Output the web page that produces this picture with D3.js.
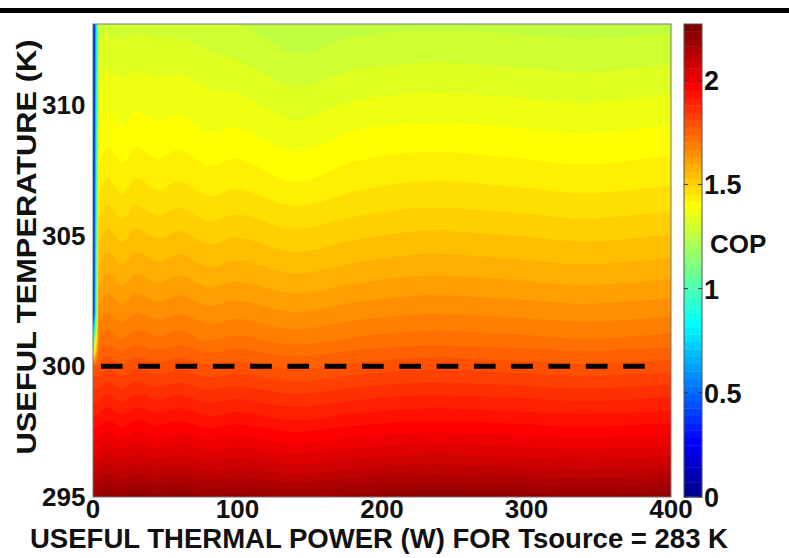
<!DOCTYPE html>
<html>
<head>
<meta charset="utf-8">
<script src="https://cdn.jsdelivr.net/npm/d3@7"></script>
<style>
  html, body { margin: 0; padding: 0; background: #fff; }
  svg { display: block; }
  text { font-family: "Liberation Sans", Arial, Helvetica, sans-serif; font-weight: bold; fill: #111; }
</style>
</head>
<body>
<svg id="chart" width="789" height="558"></svg>
<script>
// ---------------- data ----------------
const powers = [0, 4, 10, 20, 30, 45, 60, 80, 100, 140, 180, 230, 290, 340, 400];     // W
const temps  = [295, 296, 297, 298, 299, 300, 301, 302, 303, 304, 305, 306, 307, 308, 309, 310, 311, 312, 313]; // K
// COP, one row per temperature (rows follow temps, columns follow powers)
const cop = [
  [2.20, 2.205, 2.225, 2.205, 2.225, 2.21, 2.222, 2.202, 2.212, 2.19, 2.208, 2.222, 2.215, 2.206, 2.216],
  [2.09, 2.095, 2.115, 2.095, 2.115, 2.10, 2.112, 2.092, 2.102, 2.08, 2.098, 2.112, 2.105, 2.096, 2.106],
  [2.00, 2.005, 2.025, 2.005, 2.025, 2.01, 2.022, 2.002, 2.012, 1.99, 2.008, 2.022, 2.015, 2.006, 2.016],
  [1.92, 1.925, 1.945, 1.925, 1.945, 1.93, 1.942, 1.922, 1.932, 1.91, 1.928, 1.942, 1.935, 1.926, 1.936],
  [1.85, 1.855, 1.875, 1.855, 1.875, 1.86, 1.872, 1.852, 1.862, 1.84, 1.858, 1.872, 1.865, 1.856, 1.866],
  [1.78, 1.78, 1.80, 1.78, 1.80, 1.785, 1.797, 1.777, 1.787, 1.765, 1.783, 1.797, 1.79, 1.781, 1.791],
  [0.90, 1.705, 1.725, 1.705, 1.725, 1.71, 1.722, 1.702, 1.712, 1.69, 1.708, 1.722, 1.715, 1.706, 1.716],
  [0.00, 1.65, 1.67, 1.65, 1.67, 1.655, 1.667, 1.647, 1.657, 1.635, 1.653, 1.667, 1.66, 1.651, 1.661],
  [0.00, 1.60, 1.62, 1.60, 1.62, 1.605, 1.617, 1.597, 1.607, 1.585, 1.603, 1.617, 1.61, 1.601, 1.611],
  [0.00, 1.555, 1.575, 1.555, 1.575, 1.56, 1.572, 1.552, 1.562, 1.54, 1.558, 1.572, 1.565, 1.556, 1.566],
  [0.00, 1.515, 1.535, 1.515, 1.535, 1.52, 1.532, 1.512, 1.522, 1.50, 1.518, 1.532, 1.525, 1.516, 1.526],
  [0.00, 1.475, 1.495, 1.475, 1.495, 1.48, 1.492, 1.472, 1.482, 1.46, 1.478, 1.492, 1.485, 1.476, 1.486],
  [0.00, 1.44, 1.46, 1.44, 1.46, 1.445, 1.457, 1.437, 1.447, 1.42, 1.443, 1.457, 1.45, 1.441, 1.451],
  [0.00, 1.41, 1.43, 1.412, 1.43, 1.417, 1.427, 1.41, 1.417, 1.39, 1.413, 1.425, 1.418, 1.41, 1.42],
  [0.00, 1.385, 1.40, 1.387, 1.40, 1.39, 1.398, 1.382, 1.387, 1.36, 1.383, 1.393, 1.387, 1.38, 1.39],
  [0.00, 1.365, 1.377, 1.367, 1.377, 1.37, 1.374, 1.36, 1.36, 1.332, 1.352, 1.362, 1.357, 1.35, 1.36],
  [0.00, 1.345, 1.355, 1.348, 1.355, 1.35, 1.352, 1.34, 1.334, 1.303, 1.322, 1.331, 1.326, 1.32, 1.33],
  [0.00, 1.322, 1.33, 1.325, 1.33, 1.326, 1.326, 1.313, 1.304, 1.276, 1.292, 1.30, 1.296, 1.29, 1.297],
  [0.00, 1.30, 1.305, 1.30, 1.305, 1.30, 1.30, 1.29, 1.28, 1.255, 1.267, 1.272, 1.27, 1.265, 1.27]
];
const xTicks = [0, 100, 200, 300, 400];
const yTicks = [295, 300, 305, 310];
const cTicks = [0, 0.5, 1, 1.5, 2];
const copMax = 2.27;
const refTemp = 300;            // dashed reference line temperature
const refPowers = [5.5, 382];   // dashed line extent (W)
const xTitle = "USEFUL THERMAL POWER (W) FOR Tsource = 283 K";
const yTitle = "USEFUL TEMPERATURE (K)";
const cTitle = "COP";

// ---------------- layout ----------------
const svg = d3.select("#chart");
const L = 93, R = 671, T = 24, B = 497;
const x = d3.scaleLinear().domain([0, 400]).range([L, R]);
const y = d3.scaleLinear().domain([295, 313.1]).range([B, T]);
const cbX0 = 684, cbX1 = 702;
const cy = d3.scaleLinear().domain([0, copMax]).range([B, T]);

// MATLAB jet(64)
function jetMap(m) {
  const n = Math.ceil(m / 4);
  const u = [];
  for (let i = 1; i <= n; i++) u.push(i / n);
  for (let i = 1; i <= n - 1; i++) u.push(1);
  for (let i = n; i >= 1; i--) u.push(i / n);
  const off = Math.ceil(n / 2) - (m % 4 === 1 ? 1 : 0);
  const J = Array.from({length: m}, () => [0, 0, 0]);
  const g = u.map((_, i) => off + i + 1);
  const r = g.map(v => v + n).filter(v => v <= m);
  const b = g.map(v => v - n).filter(v => v >= 1);
  const gg = g.filter(v => v <= m);
  r.forEach((idx, i) => J[idx - 1][0] = u[i]);
  gg.forEach((idx, i) => J[idx - 1][1] = u[i]);
  b.forEach((idx, i) => J[idx - 1][2] = u[u.length - b.length + i]);
  return J.map(c => d3.rgb(c[0] * 255, c[1] * 255, c[2] * 255).formatHex());
}
const NC = 64;
const jet = jetMap(NC);
const levels = d3.range(NC).map(i => i * copMax / NC);

// top black rule
svg.append("rect").attr("x", 0).attr("y", 8).attr("width", 789).attr("height", 5).attr("fill", "#000");

// ---------------- field (smooth interpolation, filled contours) ----------------
function locate(arr, v) {
  let i = d3.bisectRight(arr, v) - 1;
  i = Math.max(0, Math.min(arr.length - 2, i));
  let t = (v - arr[i]) / (arr[i + 1] - arr[i]);
  return [i, Math.max(0, Math.min(1, t))];
}
// cubic Hermite along power (linear in the first, steep interval), linear along temperature
function rowValue(row, p) {
  const [i, t] = locate(powers, p);
  if (i === 0) return (1 - t) * row[0] + t * row[1];
  const h = powers[i + 1] - powers[i];
  const slope = k => {
    if (k <= 1) return (row[2] - row[1]) / (powers[2] - powers[1]);
    if (k >= powers.length - 1) return (row[k] - row[k - 1]) / (powers[k] - powers[k - 1]);
    return (row[k + 1] - row[k - 1]) / (powers[k + 1] - powers[k - 1]);
  };
  const m0 = slope(i) * h, m1 = slope(i + 1) * h;
  const t2 = t * t, t3 = t2 * t;
  return (2 * t3 - 3 * t2 + 1) * row[i] + (t3 - 2 * t2 + t) * m0 +
         (-2 * t3 + 3 * t2) * row[i + 1] + (t3 - t2) * m1;
}
function field(p, tk) {
  const [j, b] = locate(temps, tk);
  return (1 - b) * rowValue(cop[j], p) + b * rowValue(cop[j + 1], p);
}
const dP = 0.5, dT = 0.05;
const nx = Math.round(400 / dP) + 1;
const ny = Math.round((313.1 - 295) / dT) + 1;
const grid = new Float64Array(nx * ny);
for (let j = 0; j < ny; j++) {
  const tk = 295 + j * dT;
  for (let i = 0; i < nx; i++) grid[j * nx + i] = field(i * dP, tk);
}
const contours = d3.contours().size([nx, ny]).thresholds(levels)(grid);
const proj = d3.geoTransform({
  point: function(px, py) {
    this.stream.point(x((px - 0.5) * dP), y(295 + (py - 0.5) * dT));
  }
});
const path = d3.geoPath(proj);
svg.append("clipPath").attr("id", "plotclip")
  .append("rect").attr("x", L).attr("y", T).attr("width", R - L).attr("height", B - T);
const gField = svg.append("g").attr("clip-path", "url(#plotclip)");
gField.selectAll("path").data(contours).join("path")
  .attr("d", path)
  .attr("fill", (d, i) => jet[i])
  .attr("stroke", (d, i) => jet[i])
  .attr("stroke-width", 0.3);

// dashed reference line
svg.append("line")
  .attr("x1", x(refPowers[0])).attr("x2", x(refPowers[1]))
  .attr("y1", y(refTemp)).attr("y2", y(refTemp))
  .attr("stroke", "#000").attr("stroke-width", 5)
  .attr("stroke-dasharray", "21.6,15.7");

// frame
svg.append("rect").attr("x", L).attr("y", T).attr("width", R - L).attr("height", B - T)
  .attr("fill", "none").attr("stroke", "#777").attr("stroke-width", 1);

// axes tick labels
svg.append("g").selectAll("text").data(xTicks).join("text")
  .attr("x", d => x(d)).attr("y", 518)
  .attr("text-anchor", "middle").attr("font-size", 26)
  .text(d => d);
svg.append("g").selectAll("text").data(yTicks).join("text")
  .attr("x", 85.5).attr("y", d => y(d) + 9)
  .attr("text-anchor", "end").attr("font-size", 26)
  .text(d => d);

// axis titles
svg.append("text").attr("x", 379).attr("y", 548)
  .attr("text-anchor", "middle").attr("font-size", 27)
  .attr("textLength", 698).attr("lengthAdjust", "spacingAndGlyphs")
  .text(xTitle);
svg.append("text").attr("transform", "translate(36,247) rotate(-90)")
  .attr("text-anchor", "middle").attr("font-size", 28)
  .attr("textLength", 415).attr("lengthAdjust", "spacingAndGlyphs")
  .text(yTitle);

// ---------------- colorbar ----------------
const gcb = svg.append("g");
gcb.selectAll("rect").data(levels).join("rect")
  .attr("x", cbX0).attr("width", cbX1 - cbX0)
  .attr("y", (d, i) => cy((i + 1) * copMax / NC))
  .attr("height", (d, i) => cy(i * copMax / NC) - cy((i + 1) * copMax / NC) + 0.4)
  .attr("fill", (d, i) => jet[i]);
gcb.append("rect").attr("x", cbX0).attr("y", T).attr("width", cbX1 - cbX0).attr("height", B - T)
  .attr("fill", "none").attr("stroke", "#555").attr("stroke-width", 1);
gcb.selectAll("line.tr").data(cTicks).join("line").attr("class", "tr")
  .attr("x1", cbX1 - 4).attr("x2", cbX1).attr("y1", d => cy(d)).attr("y2", d => cy(d))
  .attr("stroke", "#333").attr("stroke-width", 1);
gcb.selectAll("line.tl").data(cTicks).join("line").attr("class", "tl")
  .attr("x1", cbX0).attr("x2", cbX0 + 4).attr("y1", d => cy(d)).attr("y2", d => cy(d))
  .attr("stroke", "#333").attr("stroke-width", 1);
gcb.selectAll("text.ct").data(cTicks).join("text").attr("class", "ct")
  .attr("x", 704).attr("y", d => cy(d) + 10)
  .attr("font-size", 27)
  .text(d => d);
svg.append("text").attr("x", 710).attr("y", 253).attr("font-size", 26).text(cTitle);
</script>
</body>
</html>
